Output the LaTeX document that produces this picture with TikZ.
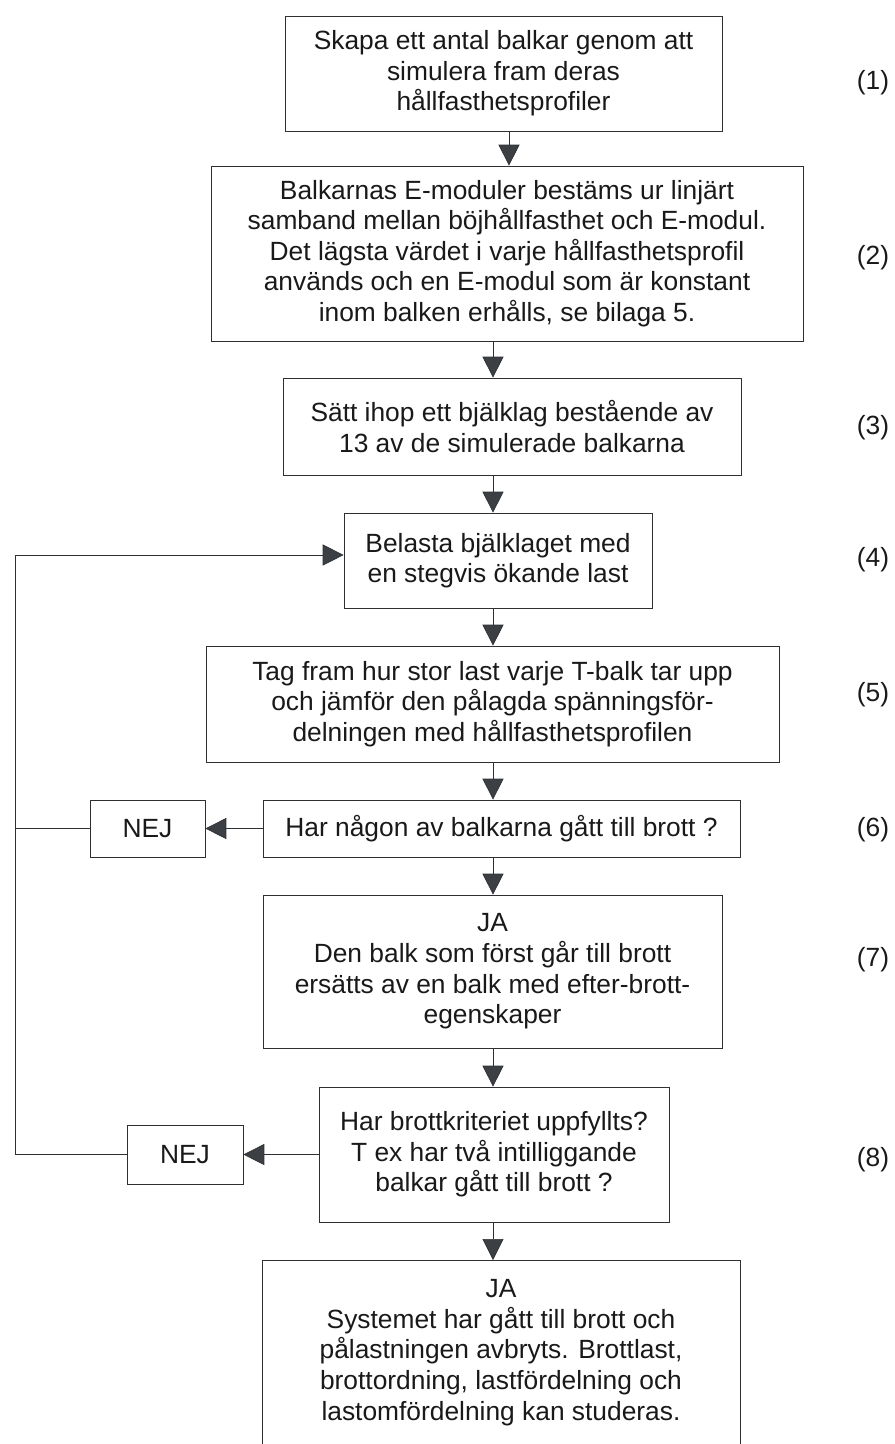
\documentclass[tikz,border=0pt]{standalone}
\usepackage{fontspec}
\setmainfont{Liberation Sans}
\usepackage{tikz}
\usetikzlibrary{arrows.meta,calc,positioning}
\definecolor{linegray}{HTML}{2E3033}
\definecolor{tipgray}{HTML}{3C3F44}
\tikzset{
    -{Triangle[width=0.42cm,length=0.42cm,fill=tipgray]},line width=1.3pt,
    box/.style ={rectangle, draw, align=center, inner sep=4pt,
                 font=\fontsize{15}{17.4}\selectfont, text=black!90},
    num/.style = {font=\fontsize{15}{17.4}\selectfont, text=black!90}
}
\begin{document}
\begin{tikzpicture}[x=0.02cm,y=-0.02cm,color=linegray]
    \useasboundingbox (0,0) rectangle (894,1444);
    \clip (0,0) rectangle (894,1444);
    \node[box, minimum width=8.74cm, minimum height=2.30cm] (1) at (503.5,73.5)
        {Skapa ett antal balkar genom att\\simulera fram deras\\hållfasthetsprofiler};
    \node[box, minimum width=11.84cm, minimum height=3.50cm] (2) at (507,253.5)
        {Balkarnas E-moduler bestäms ur linjärt\\samband mellan böjhållfasthet och E-modul.\\Det lägsta värdet i varje hållfasthetsprofil\\används och en E-modul som är konstant\\inom balken erhålls, se bilaga 5.};
    \node[box, minimum width=9.16cm, minimum height=1.94cm] (3) at (512,426.5)
        {Sätt ihop ett bjälklag bestående av\\13 av de simulerade balkarna};
    \node[box, minimum width=6.16cm, minimum height=1.90cm] (4) at (498,560.5)
        {Belasta bjälklaget med\\en stegvis ökande last};
    \node[box, minimum width=11.46cm, minimum height=2.32cm] (5) at (492.5,704)
        {Tag fram hur stor last varje T-balk tar upp\\och jämför den pålagda spänningsför-\\delningen med hållfasthetsprofilen};
    \node[box, minimum width=9.54cm, minimum height=1.14cm] (6) at (501.5,828.5)
        {Har någon av balkarna gått till brott ?};
    \node[box, minimum width=2.30cm, minimum height=1.14cm] (10) at (147.5,828.5) {NEJ};
    \node[box, minimum width=9.18cm, minimum height=3.06cm] (7) at (492.5,971.5)
        {JA\\Den balk som först går till brott\\ersätts av en balk med efter-brott-\\egenskaper};
    \node[box, minimum width=7.00cm, minimum height=2.70cm] (8) at (494,1154.5)
        {Har brottkriteriet uppfyllts?\\T ex har två intilliggande\\balkar gått till brott ?};
    \node[box, minimum width=2.32cm, minimum height=1.18cm] (11) at (185,1154.5) {NEJ};
    \node[box, minimum width=9.56cm, inner ysep=11pt, anchor=north] (9) at (501,1260)
        {JA\\Systemet har gått till brott och\\pålastningen avbryts. Brottlast,\\brottordning, lastfördelning och\\lastomfördelning kan studeras.\\[1.5cm]~};

    % step numbers
    \node[num] (s1) at (873,83) {(1)};
    \node[num] (s2) at (873,258) {(2)};
    \node[num] (s3) at (873,428) {(3)};
    \node[num] (s4) at (873,560) {(4)};
    \node[num] (s5) at (873,695) {(5)};
    \node[num] (s6) at (873,830) {(6)};
    \node[num] (s7) at (873,960) {(7)};
    \node[num] (s8) at (873,1160) {(8)};

    \coordinate (a) at (509,0);
    \coordinate (c) at (493,0);
    \coordinate (loop) at (15,555);

    \draw (a |- 1.south) -- (a |- 2.north);
    \draw (c |- 2.south) -- (c |- 3.north);
    \draw (c |- 3.south) -- (c |- 4.north);
    \draw (c |- 4.south) -- (c |- 5.north);
    \draw (c |- 5.south) -- (c |- 6.north);
    \draw (c |- 6.south) -- (c |- 7.north);
    \draw (c |- 7.south) -- (c |- 8.north);
    \draw (c |- 8.south) -- (c |- 9.north);
    \draw (6.west) -- (10.east);
    \draw (8.west) -- (11.east);
    % loop back
    \draw[-] (10.west) -| (loop);
    \draw[-] (11.west) -| (loop);
    \draw (loop) -- (loop -| 4.west);
\end{tikzpicture}
\end{document}
